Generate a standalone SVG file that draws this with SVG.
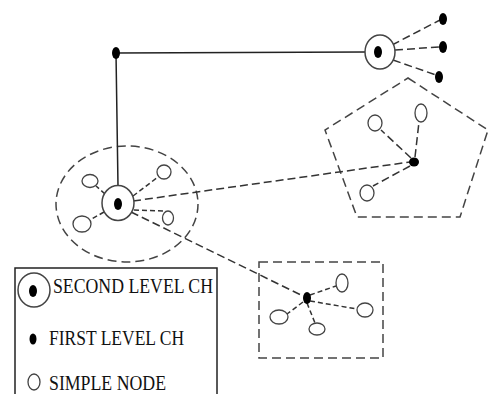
<svg xmlns="http://www.w3.org/2000/svg" width="492" height="394" viewBox="0 0 492 394">
<style>
.bg{fill:#fff}
.solid{stroke:#222;stroke-width:1.5;fill:none}
.dash{stroke:#333;stroke-width:1.5;fill:none;stroke-dasharray:8 4}
.sdash{stroke:#333;stroke-width:1.5;fill:none;stroke-dasharray:5 3}
.area{stroke:#444;stroke-width:1.5;fill:none;stroke-dasharray:9 5}
.ch1{fill:#000}
.ring{fill:#fff;stroke:#444;stroke-width:1.5}
.simple{fill:#fff;stroke:#444;stroke-width:1.3}
.lbl{font-family:"Liberation Serif","Times New Roman",serif;font-size:20px;fill:#111}
</style>
<rect class="bg" width="492" height="394"/>

<g id="areas">
<ellipse class="area" cx="127" cy="204" rx="71" ry="58"/>
<polygon class="area" points="408,78 488,130 460,217 357,217 325,130"/>
<rect class="area" x="259" y="262" width="124" height="96"/>
</g>

<g id="connectors">
<polyline class="solid" points="118,186 116,53 365,52"/>
<line class="dash" x1="392" y1="45" x2="440" y2="20"/>
<line class="dash" x1="395" y1="50" x2="439" y2="47"/>
<line class="dash" x1="393" y1="60" x2="436" y2="75"/>
<line class="dash" x1="133" y1="201" x2="410" y2="162"/>
<line class="dash" x1="131" y1="212" x2="303" y2="296"/>
<line class="sdash" x1="105" y1="194" x2="96" y2="186"/>
<line class="sdash" x1="133" y1="196" x2="158" y2="177"/>
<line class="sdash" x1="134" y1="210" x2="163" y2="211"/>
<line class="sdash" x1="104" y1="212" x2="90" y2="220"/>
<line class="dash" x1="411" y1="158" x2="381" y2="130"/>
<line class="dash" x1="415" y1="157" x2="419" y2="122"/>
<line class="dash" x1="410" y1="166" x2="373" y2="186"/>
<line class="sdash" x1="310" y1="295" x2="336" y2="286"/>
<line class="sdash" x1="310" y1="301" x2="357" y2="309"/>
<line class="sdash" x1="307" y1="303" x2="315" y2="323"/>
<line class="sdash" x1="303" y1="302" x2="287" y2="314"/>
</g>

<g id="top-ch">
<ellipse class="ch1" cx="116" cy="53" rx="4" ry="6"/>
</g>
<g id="ch2-top-right">
<ellipse class="ring" cx="380" cy="52" rx="15" ry="17"/>
<ellipse class="ch1" cx="378" cy="52" rx="4" ry="6"/>
</g>
<g id="ch-right-1"><ellipse class="ch1" cx="443" cy="19" rx="4" ry="6"/></g>
<g id="ch-right-2"><ellipse class="ch1" cx="443" cy="47" rx="4" ry="6"/></g>
<g id="ch-right-3"><ellipse class="ch1" cx="439" cy="77" rx="4" ry="6"/></g>

<g id="ch2-left">
<ellipse class="ring" cx="118" cy="203" rx="16" ry="17.5"/>
<ellipse class="ch1" cx="118" cy="204" rx="4" ry="6"/>
</g>
<g id="left-n1"><ellipse class="simple" cx="90" cy="181" rx="8" ry="6.5"/></g>
<g id="left-n2"><ellipse class="simple" cx="164" cy="172" rx="7" ry="7"/></g>
<g id="left-n3"><ellipse class="simple" cx="168" cy="218" rx="5.5" ry="7"/></g>
<g id="left-n4"><ellipse class="simple" cx="82" cy="224" rx="9" ry="8"/></g>

<g id="penta-ch"><ellipse class="ch1" cx="414" cy="162" rx="5" ry="4.5"/></g>
<g id="penta-n1"><ellipse class="simple" cx="375" cy="123" rx="7" ry="8"/></g>
<g id="penta-n2"><ellipse class="simple" cx="421" cy="113" rx="6" ry="9"/></g>
<g id="penta-n3"><ellipse class="simple" cx="367" cy="193" rx="7" ry="8"/></g>

<g id="rect-ch"><ellipse class="ch1" cx="307" cy="298" rx="4" ry="6"/></g>
<g id="rect-n1"><ellipse class="simple" cx="342" cy="283" rx="6" ry="9"/></g>
<g id="rect-n2"><ellipse class="simple" cx="365" cy="310" rx="8" ry="7"/></g>
<g id="rect-n3"><ellipse class="simple" cx="279" cy="317" rx="9" ry="7"/></g>
<g id="rect-n4"><ellipse class="simple" cx="317" cy="329" rx="8" ry="6"/></g>

<g id="legend">
<rect x="15" y="268" width="202" height="140" fill="#fff" stroke="#222" stroke-width="1.5"/>
<ellipse class="ring" cx="34" cy="290" rx="16" ry="17"/>
<ellipse class="ch1" cx="33" cy="291" rx="4" ry="6"/>
<text class="lbl" x="53" y="293" textLength="160" lengthAdjust="spacingAndGlyphs">SECOND LEVEL CH</text>
<ellipse class="ch1" cx="33" cy="339" rx="3.5" ry="5.5"/>
<text class="lbl" x="49" y="345" textLength="135" lengthAdjust="spacingAndGlyphs">FIRST LEVEL CH</text>
<ellipse class="simple" cx="34" cy="382" rx="6" ry="8"/>
<text class="lbl" x="49" y="390" textLength="117" lengthAdjust="spacingAndGlyphs">SIMPLE NODE</text>
</g>
</svg>
